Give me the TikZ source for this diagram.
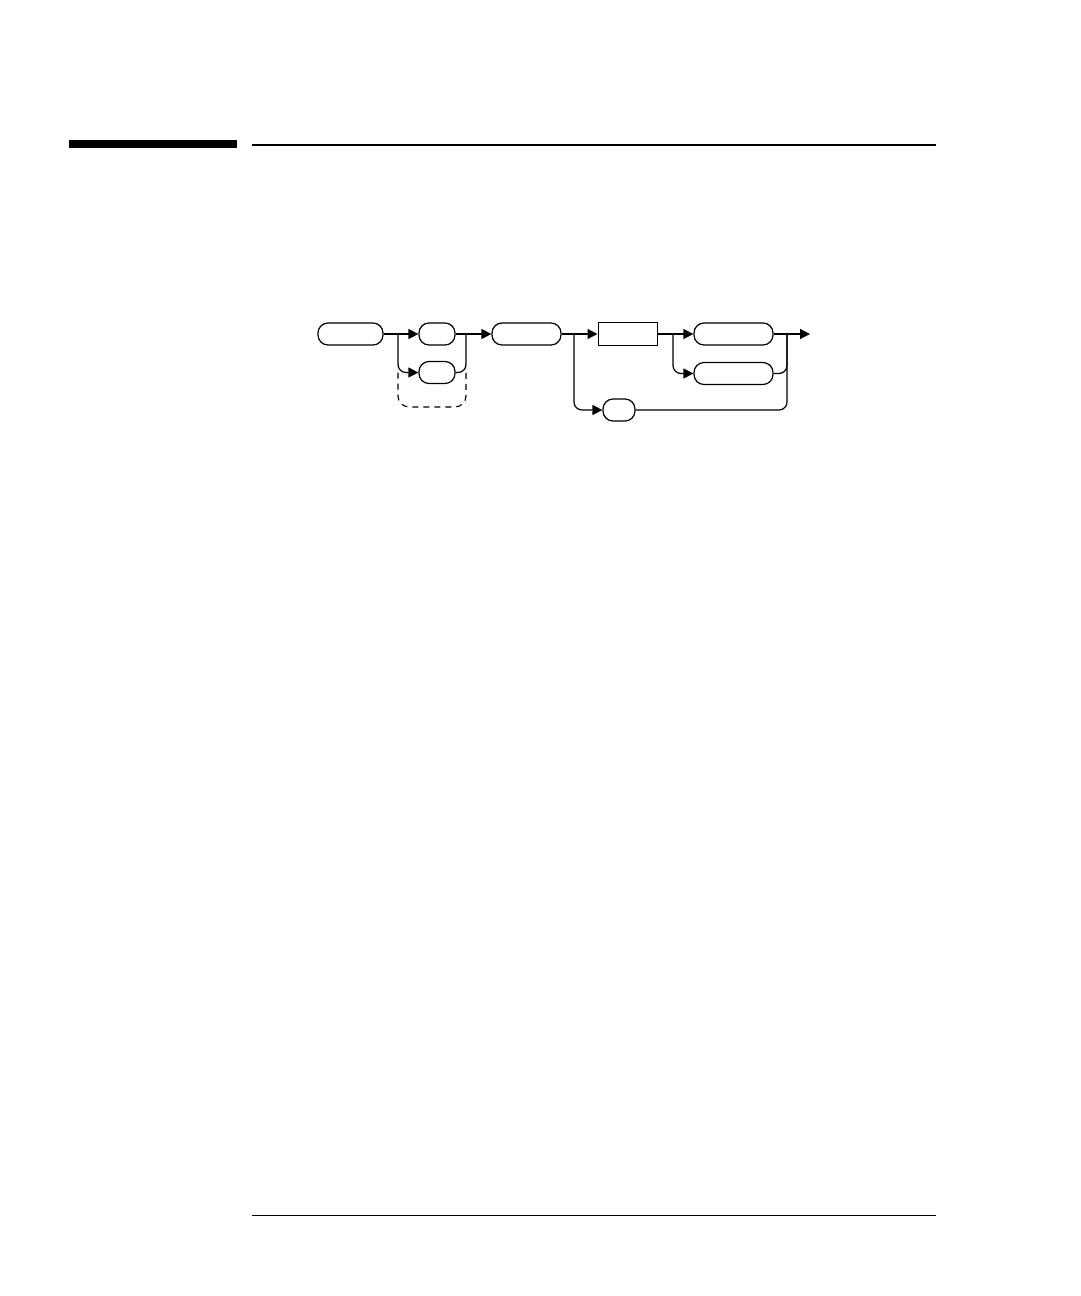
\documentclass[tikz,border=0pt]{standalone}
\usepackage{tikz}
\usetikzlibrary{arrows.meta}
\tikzstyle{term} = [rectangle, draw, rounded corners=10pt, minimum height=22pt, inner sep=0pt]
\tikzstyle{nonterm} = [rectangle, draw, line width=1pt, minimum height=23pt, inner sep=0pt]
\tikzstyle{rule} = [line width=1.2pt]

\begin{document}
\begin{tikzpicture}[x=1pt,y=-1pt,>={Triangle[length=10pt,width=10pt]},line width=1.2pt]
  \useasboundingbox (0,0) rectangle (1080,1296);
  % page rules
  \fill (69,140) rectangle (237,148);
  \draw[rule] (252,145) -- (936,145);
  \draw[line width=1pt] (252,1215) -- (936,1215);

  \node[term, minimum width=65pt] (start) at (350.5,334) {};
  \node[term, minimum width=36pt] (opt_a) at (437,334) {};
  \node[term, minimum width=36pt] (opt_b) at (437,372.5) {};
  \node[term, minimum width=69pt] (mid) at (526.5,334) {};
  \node[nonterm, minimum width=59pt] (param) at (627.5,334) {};
  \node[term, minimum width=79pt] (suff_a) at (733.5,334) {};
  \node[term, minimum width=79pt] (suff_b) at (733.5,373.5) {};
  \node[term, minimum width=32pt] (qry) at (619,410) {};

  \coordinate (split_a) at (398,334);
  \coordinate (join_a) at (466,334);
  \coordinate (loop) at (432,407);
  \coordinate (split_b) at (574,334);
  \coordinate (split_c) at (673,334);
  \coordinate (join_c) at (787,334);
  \coordinate (out) at (810,334);

  \draw (start) -- (split_a);
  \draw[->] (split_a) -- (opt_a);
  \draw[->, rounded corners=8pt] (split_a) |- (opt_b);
  \draw (opt_a) -- (join_a);
  \draw[rounded corners=8pt] (opt_b) -| (join_a);
  \draw[dash pattern=on 6pt off 5pt, line width=1.1pt, rounded corners=11pt] (split_a |- opt_b) |- (loop) -| (join_a |- opt_b);
  \draw[->] (join_a) -- (mid);

  \draw (mid.east) -- (split_b);
  \draw[->] (split_b) -- (param.west);
  \draw[->, rounded corners=8pt] (split_b) |- (qry);
  \draw (param.east) -- (split_c);
  \draw[->] (split_c) -- (suff_a);
  \draw[->, rounded corners=8pt] (split_c) |- (suff_b);
  \draw (suff_a) -- (join_c);
  \draw[rounded corners=8pt] (suff_b) -| (join_c);
  \draw[rounded corners=8pt] (qry) -| (join_c);
  \draw[->] (join_c) -- (out);
\end{tikzpicture}
\end{document}
